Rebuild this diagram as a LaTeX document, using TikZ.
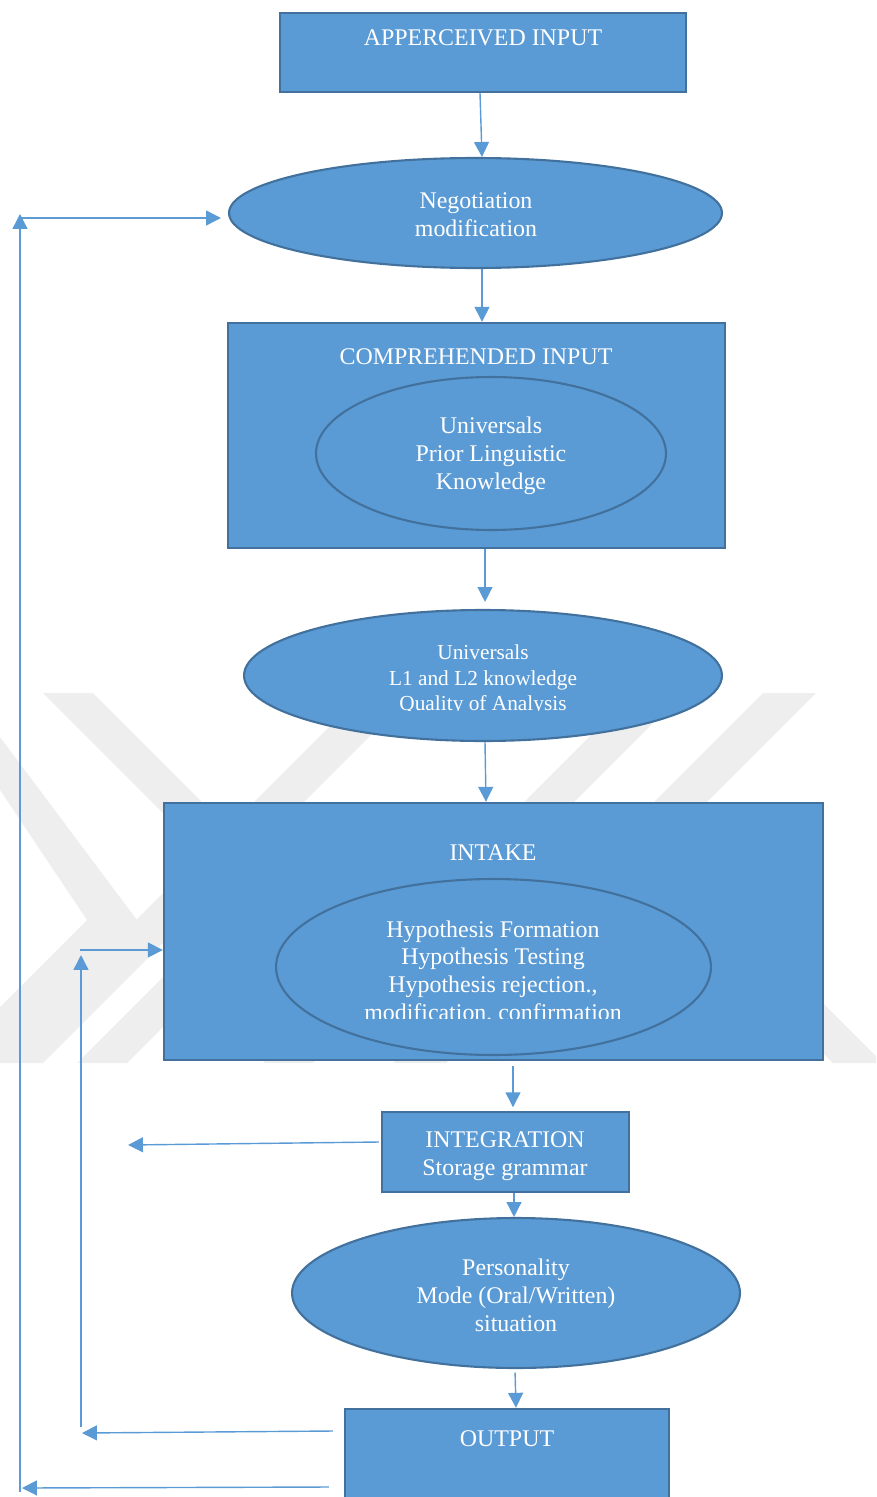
\documentclass[tikz,border=0pt]{standalone}
\usepackage{fontspec}
\setmainfont{Liberation Serif}
\usetikzlibrary{arrows.meta,shapes.geometric,calc}
\definecolor{fillblue}{HTML}{5B9BD5}
\definecolor{edgeblue}{HTML}{41719C}
\definecolor{linkblue}{HTML}{5B9BD5}
\definecolor{wmgray}{HTML}{EEEEEE}
\tikzset{
  boxshape/.style={draw=edgeblue, fill=fillblue, line width=1.4pt, rectangle, inner sep=0pt},
  ellshape/.style={draw=edgeblue, fill=fillblue, line width=1.2pt, ellipse, inner sep=0pt},
  lbl/.style={text=white, font=\fontsize{13.6pt}{15.9pt}\selectfont, align=center, inner sep=0pt},
  lblsmall/.style={text=white, font=\fontsize{12.15pt}{14.7pt}\selectfont, align=center, inner sep=0pt},
  link/.style={draw=linkblue, line width=0.8pt, -{Triangle[length=8.5pt,width=8.5pt]}},
  wm/.style={fill=wmgray, draw=none},
}
\begin{document}
\begin{tikzpicture}[x=0.02cm,y=-0.02cm]
\useasboundingbox (0,0) rectangle (876,1497);
\clip (0,0) rectangle (876,1497);

% faint watermark
\begin{scope}
  \clip (0,693) rectangle (876,1063);
  \fill[wm] (43,693) -- (93,693) -- (295,895) -- (127,1063) -- (77,1063) -- (245,895) -- cycle;
  \fill[wm] (0,737) -- (137,920) -- (0,1057) -- (0,1007) -- (87,920) -- (0,790) -- cycle;
  \fill[wm] (363,693) -- (413,693) -- (43,1063) -- (-7,1063) -- cycle;
  \fill[wm] (633,693) -- (683,693) -- (313,1063) -- (263,1063) -- cycle;
  \fill[wm] (763,693) -- (816,693) -- (446,1063) -- (393,1063) -- cycle;
  \fill[wm] (650,880) -- (700,880) -- (883,1063) -- (833,1063) -- cycle;
\end{scope}

% shapes
\node[boxshape, minimum width=8.12cm, minimum height=1.58cm] (b1) at (483,52.5) {};
\node[lbl] (t1) at (483,38) {APPERCEIVED INPUT};

\node[ellshape, minimum width=9.86cm, minimum height=2.2cm] (e1) at (475.5,213) {};
\node[lbl] (t2) at (476,214.5) {Negotiation\\modification};

\node[boxshape, minimum width=9.94cm, minimum height=4.5cm] (b2) at (476.5,435.5) {};
\node[lbl] (t3) at (476,356.5) {COMPREHENDED INPUT};
\node[ellshape, minimum width=7.0cm, minimum height=3.06cm] (i1) at (491,453.5) {};
\node[lbl] (t4) at (491,456) {Universals\\Prior Linguistic\\Knowledge};

\node[ellshape, minimum width=9.56cm, minimum height=2.62cm] (e2) at (483,675.5) {};
\begin{scope}
  \clip (244,600) rectangle (722,710);
  \node[lblsmall] (t5) at (483,680) {Universals\\L1 and L2 knowledge\\Quality of Analysis};
\end{scope}

\node[boxshape, minimum width=13.18cm, minimum height=5.14cm] (b3) at (493.5,931.5) {};
\node[lbl] (t6) at (493,852.5) {INTAKE};
\node[ellshape, minimum width=8.7cm, minimum height=3.52cm] (i2) at (493.5,967) {};
\begin{scope}
  \clip (276,870) rectangle (711,1018);
  \node[lbl] (t7) at (493,972.5) {Hypothesis Formation\\Hypothesis Testing\\Hypothesis rejection.,\\modification, confirmation};
\end{scope}

\node[boxshape, minimum width=4.94cm, minimum height=1.6cm] (b4) at (505.5,1152) {};
\node[lbl] (t8) at (505,1156.5) {INTEGRATION\\Storage grammar};

\node[ellshape, minimum width=8.96cm, minimum height=3.0cm] (e3) at (516,1293) {};
\node[lbl] (t9) at (516,1295) {Personality\\Mode (Oral/Written)\\situation};

\node[boxshape, minimum width=6.48cm, minimum height=2.22cm] (b5) at (507,1464.5) {};
\node[lbl] (t10) at (507,1438.5) {OUTPUT};

% column helpers
\coordinate (c480) at (480,0);
\coordinate (c482) at (482,0);
\coordinate (c485) at (485,0);
\coordinate (c486) at (486,0);
\coordinate (c513) at (513,0);
\coordinate (c514) at (514,0);
\coordinate (c515) at (515,0);
\coordinate (c516) at (516,0);

% main flow
\draw[link] (b1.south -| c480) -- (e1.north -| c482);
\draw[link] (e1.south -| c482) -- (b2.north -| c482);
\draw[link, shorten >=4pt] (b2.south -| c485) -- (e2.north -| c485);
\draw[link] (e2.south -| c485) -- (b3.north -| c486);
\draw[link, shorten <=3pt, shorten >=2pt] (b3.south -| c513) -- (b4.north -| c513);
\draw[link] (b4.south -| c514) -- (e3.north -| c514);
\draw[link, shorten <=2pt] (e3.south -| c515) -- (b5.north -| c516);

% feedback loops
\coordinate (fb1) at (128,1145);
\coordinate (fb2) at (82,1433);
\coordinate (fb3) at (22,1488);
\coordinate (v2b) at (81,1427);
\coordinate (v2t) at (81,955);
\coordinate (h2s) at (80,950);
\coordinate (v1b) at (20,1492);
\coordinate (v1t) at (20,214);
\coordinate (h1s) at (20,218);
\coordinate (h1e) at (221,218);

\draw[link] ($(b4.west)+(-2,-10)$) -- (fb1);
\draw[link] ($(b5.west)+(-11,-33.5)$) -- (fb2);
\draw[link] ($(b5.west)+(-15,22.5)$) -- (fb3);
\draw[link] (v2b) -- (v2t);
\draw[link] (h2s) -- (b3.west |- h2s);
\draw[link] (v1b) -- (v1t);
\draw[link] (h1s) -- (h1e);
\end{tikzpicture}
\end{document}
